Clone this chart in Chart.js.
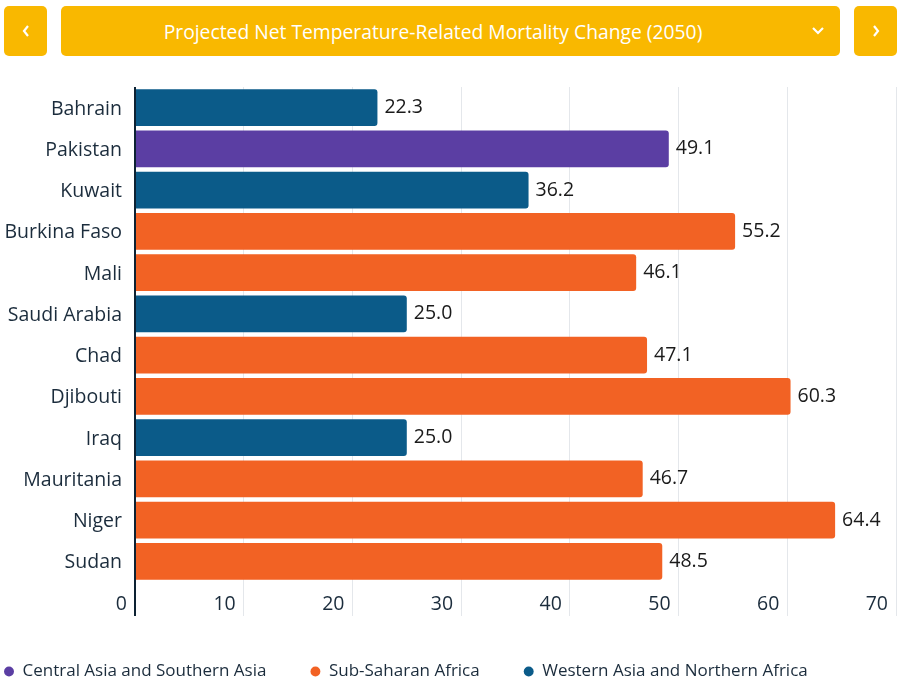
<!DOCTYPE html>
<html>
<head>
<meta charset="utf-8">
<script src="https://cdn.jsdelivr.net/npm/chart.js@4.4.1/dist/chart.umd.min.js"></script>
<style>
  html, body { margin: 0; padding: 0; background: #fff; overflow: hidden; }
  body { width: 900px; height: 687px; position: relative; font-family: "Open Sans", "Noto Sans", sans-serif; }
  #chart { position: absolute; left: 0; top: 0; }
  .btn {
    position: absolute; top: 6px; height: 50px; background: #f9b800;
    border-radius: 5px; color: #fff; display: flex; align-items: center; justify-content: center;
  }
  #prev { left: 4px; width: 43px; }
  #next { left: 854px; width: 43px; }
  #select { left: 61px; width: 779px; }
  #select span { font-size: 19.3px; padding-right: 35px; padding-top: 1px; }
  #select svg { position: absolute; right: 15px; top: 20px; }
</style>
</head>
<body>
<canvas id="chart" width="900" height="690"></canvas>
<div class="btn" id="prev"><svg width="10" height="14"><polyline points="7,2 3,7 7,12" fill="none" stroke="#fff" stroke-width="2.2"/></svg></div>
<div class="btn" id="select"><span>Projected Net Temperature-Related Mortality Change (2050)</span><svg width="14" height="10"><polyline points="2,2 7,7 12,2" fill="none" stroke="#fff" stroke-width="2.2"/></svg></div>
<div class="btn" id="next"><svg width="10" height="14"><polyline points="3,2 7,7 3,12" fill="none" stroke="#fff" stroke-width="2.2"/></svg></div>
<script>
// Datos
const countries = ["Bahrain", "Pakistan", "Kuwait", "Burkina Faso", "Mali", "Saudi Arabia",
  "Chad", "Djibouti", "Iraq", "Mauritania", "Niger", "Sudan"];
const values = [22.3, 49.1, 36.2, 55.2, 46.1, 25.0, 47.1, 60.3, 25.0, 46.7, 64.4, 48.5];
const countryRegion = [2, 0, 2, 1, 1, 2, 1, 1, 2, 1, 1, 1];
const regions = ["Central Asia and Southern Asia", "Sub-Saharan Africa", "Western Asia and Northern Africa"];
const regionColors = ["#5b3ea3", "#f26224", "#0b5b89"];
const xTicks = [0, 10, 20, 30, 40, 50, 60, 70];

const textColor = "#1b2c3c";
const font = "'Open Sans', 'Noto Sans', sans-serif";

// Un dataset por región, apilados para que ocupen la misma fila
const datasets = regions.map((r, ri) => ({
  label: r,
  data: values.map((v, i) => countryRegion[i] === ri ? v : null),
  backgroundColor: regionColors[ri],
  borderRadius: 3,
  borderSkipped: "start",
  barPercentage: 0.89,
  categoryPercentage: 1
}));

// Etiquetas de valor al final de cada barra
const valueLabels = {
  id: "valueLabels",
  afterDatasetsDraw(chart) {
    const ctx = chart.ctx;
    ctx.save();
    ctx.font = "19.5px " + font;
    ctx.fillStyle = "#1a1a1a";
    ctx.textAlign = "left";
    ctx.textBaseline = "middle";
    chart.data.datasets.forEach((ds, di) => {
      chart.getDatasetMeta(di).data.forEach((el, i) => {
        const v = ds.data[i];
        if (v == null) return;
        ctx.fillText(v.toFixed(1), el.x + 7, el.y);
      });
    });
    ctx.restore();
  }
};

// Mover la leyenda hacia la izquierda
const legendShift = {
  id: "legendShift",
  afterLayout(chart) {
    chart.legend.left -= 40;
  }
};

new Chart(document.getElementById("chart"), {
  type: "bar",
  data: { labels: countries, datasets },
  plugins: [valueLabels, legendShift],
  options: {
    indexAxis: "y",
    responsive: false,
    animation: false,
    devicePixelRatio: 1,
    layout: { padding: { top: 87, right: 4, left: 0, bottom: 0 } },
    plugins: {
      legend: {
        position: "bottom",
        align: "start",
        labels: {
          usePointStyle: true,
          pointStyle: "circle",
          boxWidth: 10,
          boxHeight: 7,
          padding: 44,
          color: textColor,
          font: { family: font, size: 17 }
        }
      },
      tooltip: { enabled: false }
    },
    scales: {
      x: {
        stacked: true,
        min: 0,
        max: 70,
        afterBuildTicks: (s) => { s.ticks = xTicks.map(v => ({ value: v })); },
        afterFit: (s) => { s.height = 37; },
        border: { display: false },
        grid: {
          color: (c) => c.tick && c.tick.value === 0 ? "#0d2233" : "#e4e7eb",
          lineWidth: (c) => c.tick && c.tick.value === 0 ? 2 : 1,
          tickLength: 34
        },
        ticks: {
          align: "end",
          labelOffset: -8,
          padding: -23,
          color: textColor,
          font: { family: font, size: 19.5 }
        }
      },
      y: {
        stacked: true,
        afterFit: (s) => { s.width = 135; },
        border: { display: false },
        grid: { display: false, drawTicks: false },
        ticks: {
          padding: 13,
          labelOffset: 1.5,
          color: textColor,
          font: { family: font, size: 19.5 }
        }
      }
    }
  }
});
</script>
</body>
</html>
